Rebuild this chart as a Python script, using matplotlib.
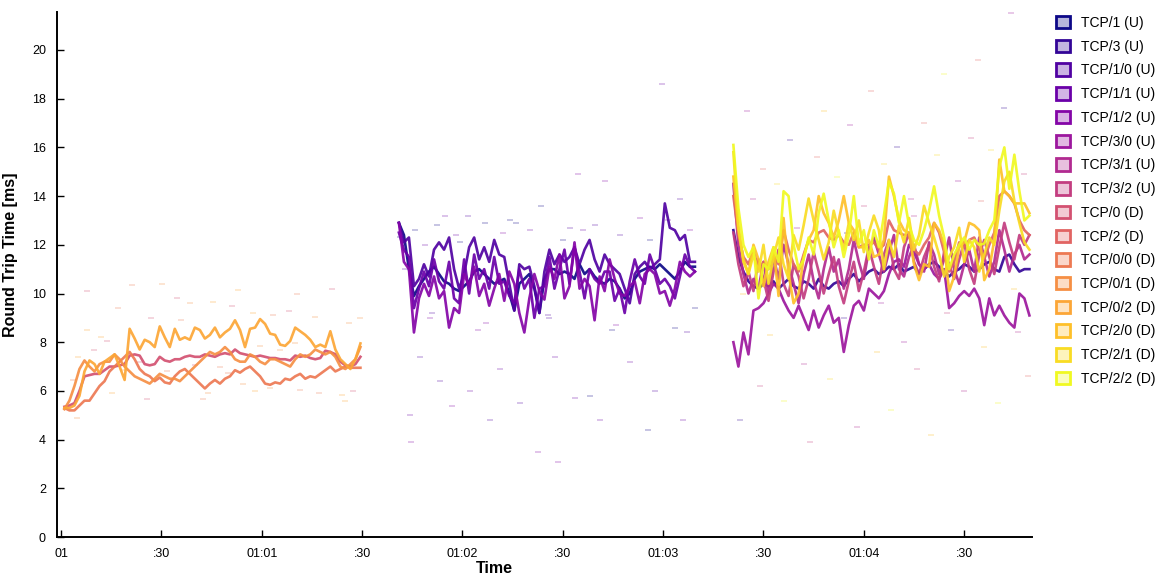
import matplotlib
matplotlib.use('Agg')
from matplotlib import pyplot as plt
from matplotlib.patches import Patch
import numpy as np

plt.rcParams['font.family'] = ['Liberation Sans', 'DejaVu Sans']

# flow names, in legend order
flows = ["TCP/1 (U)", "TCP/3 (U)", "TCP/1/0 (U)", "TCP/1/1 (U)", "TCP/1/2 (U)",
         "TCP/3/0 (U)", "TCP/3/1 (U)", "TCP/3/2 (U)", "TCP/0 (D)", "TCP/2 (D)",
         "TCP/0/0 (D)", "TCP/0/1 (D)", "TCP/0/2 (D)", "TCP/2/0 (D)", "TCP/2/1 (D)",
         "TCP/2/2 (D)"]

# seconds after 01:00, 1.5 s sampling
step = 1.5
start_1, start_2, start_3 = 1.0, 101.0, 201.0

# first run: download on TCP/0
tcp0_d = [5.35, 5.4, 5.5, 6.0, 6.6, 6.65, 6.7, 6.7, 6.85, 7.0, 7.0, 7.05, 7.1, 7.45, 7.5,
          7.45, 7.1, 7.05, 7.1, 7.4, 7.25, 7.2, 7.3, 7.3, 7.4, 7.45, 7.4, 7.4, 7.5, 7.45,
          7.4, 7.5, 7.55, 7.5, 7.7, 7.55, 7.5, 7.45, 7.4, 7.45, 7.4, 7.35, 7.35, 7.3, 7.3,
          7.25, 7.45, 7.4, 7.45, 7.35, 7.3, 7.35, 7.65, 7.6, 7.5, 7.2, 7.05, 7.0, 7.1, 7.4]
tcp0_0_d = [5.3, 5.2, 5.2, 5.4, 5.6, 5.6, 5.9, 6.2, 6.4, 6.8, 7.0, 7.2, 7.4, 7.6, 7.3,
            6.9, 6.7, 6.6, 6.4, 6.55, 6.35, 6.3, 6.6, 6.8, 6.9, 6.7, 6.5, 6.3, 6.1, 6.3,
            6.45, 6.3, 6.5, 6.6, 6.85, 6.75, 6.9, 7.0, 6.8, 6.6, 6.3, 6.25, 6.35, 6.3, 6.5,
            6.45, 6.6, 6.7, 6.5, 6.6, 6.55, 6.7, 6.85, 7.0, 6.8, 6.9, 7.0, 6.95, 6.95, 6.95]
tcp0_1_d = [5.25, 5.6, 6.2, 6.9, 7.25, 7.0, 6.8, 7.1, 7.2, 7.2, 7.5, 7.3, 7.0, 6.8, 6.6,
            6.5, 6.4, 6.3, 6.5, 6.7, 6.6, 6.5, 6.5, 6.4, 6.6, 6.8, 7.0, 7.2, 7.4, 7.6,
            7.5, 7.6, 7.8, 7.6, 7.3, 7.2, 7.2, 7.5, 7.4, 7.2, 7.1, 7.3, 7.3, 7.2, 7.1,
            7.0, 7.3, 7.5, 7.4, 7.5, 7.7, 7.6, 7.5, 7.6, 7.4, 7.0, 6.9, 7.1, 7.3, 7.8]
tcp0_2_d = [5.3, 5.3, 5.4, 5.8, 6.8, 7.25, 7.1, 6.7, 7.2, 7.35, 7.5, 7.0, 6.45, 8.55, 8.15,
            7.7, 8.1, 8.0, 7.8, 8.65, 8.2, 7.8, 8.55, 8.1, 8.2, 8.1, 8.6, 8.5, 8.15, 8.3,
            8.6, 8.2, 8.4, 8.55, 8.9, 8.5, 7.8, 8.55, 8.6, 8.95, 8.75, 8.35, 8.3, 7.9, 7.85,
            8.05, 8.6, 8.45, 8.3, 8.1, 7.8, 7.9, 7.8, 8.45, 7.7, 7.3, 7.1, 6.9, 7.3, 7.95]

# second run: upload on TCP/1
tcp1_u = [12.9, 12.4, 11.0, 9.9, 10.3, 10.6, 10.9, 11.1, 10.8, 10.5, 10.4, 10.2, 10.1, 10.3, 10.5,
          10.9, 11.0, 10.8, 10.6, 10.4, 10.5, 10.6, 10.0, 9.3, 10.4, 10.6, 10.8, 10.2, 9.2, 10.6,
          11.0, 11.0, 10.8, 10.9, 10.8, 10.6, 11.2, 10.8, 11.0, 10.7, 10.5, 10.4, 10.6, 10.5, 10.2,
          9.8, 10.0, 10.6, 10.9, 11.0, 11.1, 11.0, 11.2, 11.0, 10.8, 10.6, 10.9, 11.3, 11.1, 11.1]
tcp1_0_u = [12.9, 12.1, 12.3, 10.3, 10.6, 11.2, 10.7, 11.8, 12.1, 11.8, 12.3, 11.0, 10.2, 10.8, 11.9,
            12.3, 11.4, 11.9, 11.3, 12.2, 11.6, 11.5, 10.4, 9.3, 11.2, 11.0, 11.1, 10.3, 9.2, 10.9,
            11.8, 11.2, 11.6, 11.3, 11.5, 11.9, 11.2, 11.8, 12.2, 11.4, 10.9, 11.6, 11.2, 11.0, 10.8,
            10.2, 9.6, 10.8, 11.1, 11.3, 11.0, 11.2, 11.4, 13.7, 12.7, 12.6, 12.2, 12.4, 11.3, 11.3]
tcp1_1_u = [12.5, 11.8, 11.5, 9.4, 10.2, 10.9, 10.3, 11.4, 10.5, 10.2, 11.3, 9.8, 9.6, 11.4, 10.0,
            11.6, 10.6, 11.0, 10.2, 11.5, 10.4, 10.5, 9.9, 9.6, 11.0, 10.2, 10.6, 9.0, 10.2, 10.3,
            11.5, 10.2, 11.0, 11.8, 10.4, 11.9, 10.9, 9.8, 11.0, 10.6, 10.4, 10.9, 10.9, 9.7, 10.2,
            9.2, 10.5, 11.4, 10.7, 10.4, 11.6, 11.0, 10.4, 10.6, 10.3, 9.8, 10.7, 11.6, 11.1, 10.9]
tcp1_2_u = [12.9, 11.3, 11.0, 8.4, 9.8, 10.4, 9.9, 10.7, 9.8, 10.1, 8.6, 9.4, 9.2, 10.8, 10.3,
            11.1, 9.9, 10.4, 9.5, 10.2, 10.8, 9.7, 10.9, 10.4, 9.2, 8.4, 9.8, 10.8, 10.1, 9.75,
            11.1, 10.6, 11.6, 9.8, 10.3, 12.1, 10.2, 10.6, 10.3, 8.9, 10.7, 10.1, 11.4, 10.6, 10.0,
            9.9, 10.3, 10.5, 9.6, 10.8, 11.0, 10.8, 10.0, 10.1, 9.5, 10.2, 11.3, 10.9, 10.7, 10.9]

# third run: upload on TCP/3 and download on TCP/2 together
tcp3_u = [12.6, 11.5, 10.9, 10.5, 10.3, 10.2, 10.4, 10.3, 10.5, 10.2, 10.4, 10.6, 10.3, 10.2, 10.5,
          10.4, 10.2, 10.6, 10.3, 10.2, 10.4, 10.5, 10.3, 10.6, 10.8, 10.5, 10.7, 10.9, 11.0, 10.8,
          10.9, 11.1, 11.0, 11.2, 10.9, 11.0, 11.1, 10.8, 11.0, 11.2, 11.3, 11.1, 10.9, 10.7, 10.9,
          11.0, 11.2, 11.1, 10.9, 11.0, 11.2, 11.3, 11.0, 10.9, 11.5, 11.6, 11.2, 10.9, 11.0, 11.0]
tcp3_0_u = [8.0, 7.0, 8.4, 7.5, 9.3, 9.4, 9.6, 10.0, 10.4, 10.2, 9.7, 9.3, 9.0, 9.5, 9.0,
            8.5, 9.3, 8.6, 9.1, 9.5, 8.8, 9.0, 7.6, 8.7, 9.5, 9.7, 9.3, 10.2, 10.0, 9.8,
            10.1, 10.8, 11.3, 11.4, 11.1, 12.0, 11.7, 11.2, 11.0, 11.2, 10.8, 10.6, 11.0, 9.4, 9.6,
            9.9, 10.1, 9.9, 10.2, 9.8, 8.7, 9.8, 9.1, 9.5, 9.1, 8.8, 8.6, 10.0, 9.8, 9.1]
tcp3_1_u = [14.5, 12.0, 10.8, 10.0, 10.6, 10.2, 11.3, 10.0, 11.5, 10.6, 12.0, 11.2, 10.4, 9.6, 10.8,
            11.6, 10.5, 9.8, 11.0, 11.9, 10.9, 11.4, 10.2, 11.0, 12.2, 11.3, 10.6, 11.8, 12.3, 11.6,
            10.9, 11.7, 12.4, 11.0, 10.7, 11.5, 12.0, 11.2, 10.9, 12.1, 11.6, 10.8, 11.4, 12.3, 11.0,
            10.4, 11.2, 11.8, 10.9, 12.3, 11.5, 10.7, 11.3, 12.6, 11.8, 10.9, 11.6, 12.0, 11.4, 11.6]
tcp3_2_u = [12.5, 11.2, 10.3, 10.9, 10.1, 11.4, 10.6, 9.7, 10.9, 11.8, 10.4, 9.9, 11.2, 10.7, 9.8,
            10.6, 11.7, 10.9, 10.0, 10.8, 11.5, 10.3, 9.6, 10.5, 11.3, 10.1, 10.9, 11.9, 11.1, 10.4,
            11.6, 12.2, 11.0, 10.6, 11.9, 12.5, 11.3, 10.8, 11.5, 12.0, 11.1, 10.5, 11.7, 11.2, 10.6,
            11.4, 12.1, 11.0, 10.4, 11.6, 12.2, 11.5, 10.8, 11.9, 12.9, 12.1, 11.4, 12.4, 12.0, 12.4]
tcp2_d = [14.0, 12.4, 11.5, 11.2, 11.8, 11.0, 11.3, 11.0, 11.6, 11.2, 12.6, 11.8, 11.2, 10.9, 11.6,
          12.2, 12.1, 12.5, 12.6, 12.3, 12.2, 12.4, 12.1, 12.0, 12.5, 11.9, 12.0, 12.0, 12.1, 11.8,
          12.0, 13.0, 12.6, 12.5, 12.4, 12.4, 11.8, 11.6, 12.0, 12.3, 12.9, 12.5, 11.7, 10.9, 11.3,
          12.1, 11.9, 12.2, 12.3, 11.8, 11.4, 12.0, 12.5, 14.0, 14.2, 14.0, 13.7, 13.0, 12.6, 12.4]
tcp2_0_d = [14.8, 12.6, 11.4, 10.8, 12.0, 11.4, 10.3, 11.3, 11.9, 9.9, 13.1, 10.8, 9.6, 10.0, 11.5,
            12.2, 12.6, 14.0, 13.3, 12.9, 12.3, 13.0, 14.0, 12.9, 12.6, 11.9, 11.9, 12.2, 11.5, 11.6,
            12.2, 14.8, 14.0, 13.0, 12.6, 12.5, 11.2, 10.55, 11.2, 11.1, 12.9, 12.6, 12.0, 10.1, 10.7,
            11.9, 12.1, 12.9, 12.8, 12.6, 10.55, 11.0, 12.2, 15.5, 14.2, 14.0, 13.7, 13.7, 13.7, 13.3]
tcp2_1_d = [15.8, 12.8, 11.3, 10.8, 11.6, 10.9, 12.0, 10.4, 11.5, 12.3, 11.2, 10.6, 12.4, 11.8, 12.8,
            13.9, 13.0, 12.2, 11.4, 12.1, 13.4, 12.5, 11.8, 12.9, 12.2, 13.0, 11.7, 12.5, 13.2, 12.6,
            11.0, 12.2, 11.5, 12.8, 12.1, 13.1, 11.8, 12.4, 13.6, 12.9, 12.3, 11.6, 10.7, 11.5, 11.9,
            12.7, 11.3, 12.2, 11.9, 10.9, 11.6, 12.3, 12.0, 13.4, 14.6, 15.0, 13.8, 12.9, 12.1, 11.8]
tcp2_2_d = [16.1, 13.5, 12.0, 11.5, 11.9, 9.8, 11.2, 11.0, 11.9, 11.3, 14.2, 14.0, 12.0, 11.0, 11.4,
            12.3, 11.6, 13.3, 14.1, 13.0, 11.9, 12.6, 11.5, 12.4, 14.0, 12.0, 12.6, 11.4, 12.6, 11.9,
            13.2, 14.6, 14.1, 12.9, 14.0, 12.8, 12.2, 12.0, 12.6, 13.4, 14.4, 13.2, 12.3, 11.0, 11.6,
            12.0, 12.3, 11.8, 12.2, 12.0, 12.05, 12.6, 13.0, 15.2, 16.0, 14.3, 15.7, 14.2, 13.0, 13.2]

# single samples (min / max markers) per run
dash1_t = [7.7, 21.1, 30.1, 53.0, 80.9, 70.5, 38.6, 45.5, 34.6, 17.1, 89.4, 57.5, 51.0, 63.5,
           75.9, 7.7, 13.6, 3.7, 4.7, 15.1, 25.6, 42.5, 62.5, 83.9, 87.4, 71.4, 54.5, 18.6,
           23.6, 47.5, 65.5, 81.4, 9.7, 31.6, 59.5, 12.0, 27.0, 36.0, 44.0, 58.0, 68.0, 77.0,
           86.0, 5.0, 40.0, 50.0, 70.0, 85.0]
dash1_v = [10.1, 10.35, 10.4, 10.15, 10.2, 10.0, 9.6, 9.65, 9.8, 9.4, 9.0, 9.2, 9.5, 9.1,
           9.05, 8.5, 8.05, 6.45, 4.9, 5.9, 5.65, 5.65, 6.1, 5.85, 6.0, 6.05, 6.3, 6.85,
           7.2, 7.0, 7.7, 7.55, 7.7, 6.8, 7.85, 8.2, 9.0, 8.9, 5.9, 6.0, 9.3, 5.9,
           8.8, 7.4, 7.05, 6.75, 7.95, 5.6]
dash2_t = [101.3, 102.8, 104.3, 104.6, 105.8, 107.3, 108.8, 110.3, 112.4, 113.3, 114.8, 116.9,
           119.3, 121.7, 122.3, 124.7, 126.8, 128.3, 131.2, 132.1, 134.2, 137.2, 140.2, 142.6,
           143.5, 145.6, 147.7, 148.6, 150.1, 152.2, 153.7, 154.6, 158.1, 159.6, 161.1, 162.6,
           164.7, 167.1, 170.1, 173.1, 175.5, 177.6, 179.7, 181.5, 183.6, 185.1, 185.9, 188.1,
           189.5, 111.0, 118.0, 127.0, 136.0, 146.0, 156.0, 166.0, 176.0, 187.0]
dash2_v = [12.3, 11.0, 5.0, 3.9, 12.6, 7.4, 12.0, 9.0, 12.8, 6.4, 13.2, 5.4,
           12.1, 13.2, 6.0, 8.5, 12.9, 4.8, 6.9, 12.5, 13.0, 5.5, 12.6, 3.5,
           13.6, 9.1, 7.4, 3.1, 12.2, 12.7, 5.7, 14.9, 5.8, 12.8, 4.8, 14.6,
           8.5, 12.4, 7.2, 13.1, 4.4, 6.0, 18.6, 13.0, 8.6, 13.9, 4.8, 12.6,
           9.4, 9.2, 12.4, 8.8, 12.9, 9.0, 12.6, 8.7, 12.2, 8.4]
dash3_t = [203, 205, 207, 209, 210, 212, 214, 216, 218, 220, 222, 224, 226, 228, 230, 232,
           234, 236, 238, 240, 242, 244, 246, 248, 250, 252, 254, 256, 258, 260, 262, 264,
           266, 268, 270, 272, 274, 276, 278, 280, 282, 284, 286, 288, 289, 204, 215, 225,
           235, 245, 255, 265, 275, 285]
dash3_v = [4.8, 17.5, 13.9, 6.2, 15.1, 8.3, 14.5, 5.6, 16.3, 12.7, 7.1, 3.9, 15.6, 17.5, 6.5, 14.8,
           9.0, 16.9, 4.5, 13.6, 18.3, 7.6, 15.3, 5.2, 16.0, 8.0, 13.9, 6.9, 17.0, 4.2, 15.7, 19.0,
           8.5, 14.6, 6.0, 16.4, 19.6, 7.8, 15.9, 5.5, 17.6, 21.5, 8.4, 14.9, 6.6, 10.0, 11.8, 10.5,
           12.5, 9.6, 13.2, 9.2, 13.8, 10.2]

tick_pos = [0, 30, 60, 90, 120, 150, 180, 210, 240, 270]
tick_labels = ["01", ":30", "01:01", ":30", "01:02", ":30", "01:03", ":30", "01:04", ":30"]

colors = [plt.cm.plasma(i / 15) for i in range(16)]
series = {
    "TCP/1 (U)": (start_2, tcp1_u), "TCP/3 (U)": (start_3, tcp3_u),
    "TCP/1/0 (U)": (start_2, tcp1_0_u), "TCP/1/1 (U)": (start_2, tcp1_1_u),
    "TCP/1/2 (U)": (start_2, tcp1_2_u), "TCP/3/0 (U)": (start_3, tcp3_0_u),
    "TCP/3/1 (U)": (start_3, tcp3_1_u), "TCP/3/2 (U)": (start_3, tcp3_2_u),
    "TCP/0 (D)": (start_1, tcp0_d), "TCP/2 (D)": (start_3, tcp2_d),
    "TCP/0/0 (D)": (start_1, tcp0_0_d), "TCP/0/1 (D)": (start_1, tcp0_1_d),
    "TCP/0/2 (D)": (start_1, tcp0_2_d), "TCP/2/0 (D)": (start_3, tcp2_0_d),
    "TCP/2/1 (D)": (start_3, tcp2_1_d), "TCP/2/2 (D)": (start_3, tcp2_2_d),
}

fig = plt.figure(figsize=(11.69, 5.77), dpi=100)
ax = fig.add_axes([0.0488, 0.0693, 0.8338, 0.9099])

# faint single samples
dash_sets = [(dash1_t, dash1_v, [8, 10, 11, 12]), (dash2_t, dash2_v, [0, 2, 3, 4]),
             (dash3_t, dash3_v, [1, 5, 6, 7, 9, 13, 14, 15])]
for dt, dv, idx in dash_sets:
    for j, (t, v) in enumerate(zip(dt, dv)):
        ax.plot(t, v, marker='_', markersize=4, mew=1.1, color=colors[idx[j % len(idx)]],
                alpha=0.3, linestyle='none')

for i, name in enumerate(flows):
    t0, vals = series[name]
    t = t0 + step * np.arange(len(vals))
    ax.plot(t, vals, color=colors[i], lw=1.9, alpha=0.92, solid_joinstyle='round')

ax.set_xlim(-1.2, 290.2)
ax.set_ylim(0, 21.56)
ax.set_yticks(range(0, 21, 2))
ax.set_xticks(tick_pos)
ax.set_xticklabels(tick_labels)
ax.tick_params(direction='in', length=5, width=1, labelsize=9, colors='black')
ax.tick_params(axis='y', pad=8)
ax.tick_params(axis='x', pad=8)
for s in ['top', 'right']:
    ax.spines[s].set_visible(False)
for s in ['left', 'bottom']:
    ax.spines[s].set_linewidth(1.4)

ax.set_ylabel("Round Trip Time [ms]", fontsize=11.5, fontweight='bold')
ax.yaxis.set_label_coords(-0.040, 0.537)
ax.set_xlabel("Time", fontsize=11.5, fontweight='bold')
ax.xaxis.set_label_coords(0.449, -0.046)

handles = []
for i, name in enumerate(flows):
    r, g, b, _ = colors[i]
    light = (1 - 0.3 * (1 - r), 1 - 0.3 * (1 - g), 1 - 0.3 * (1 - b))
    handles.append(Patch(facecolor=light, edgecolor=colors[i], lw=2, label=name))
fig.legend(handles=handles, loc='upper left', bbox_to_anchor=(1056 / 1169, 1 - 16 / 577),
           bbox_transform=fig.transFigure, frameon=False, fontsize=10, borderpad=0,
           borderaxespad=0, handlelength=1.0, handleheight=1.0, handletextpad=0.8,
           labelspacing=0.7)

fig.savefig('out.png', dpi=100)
